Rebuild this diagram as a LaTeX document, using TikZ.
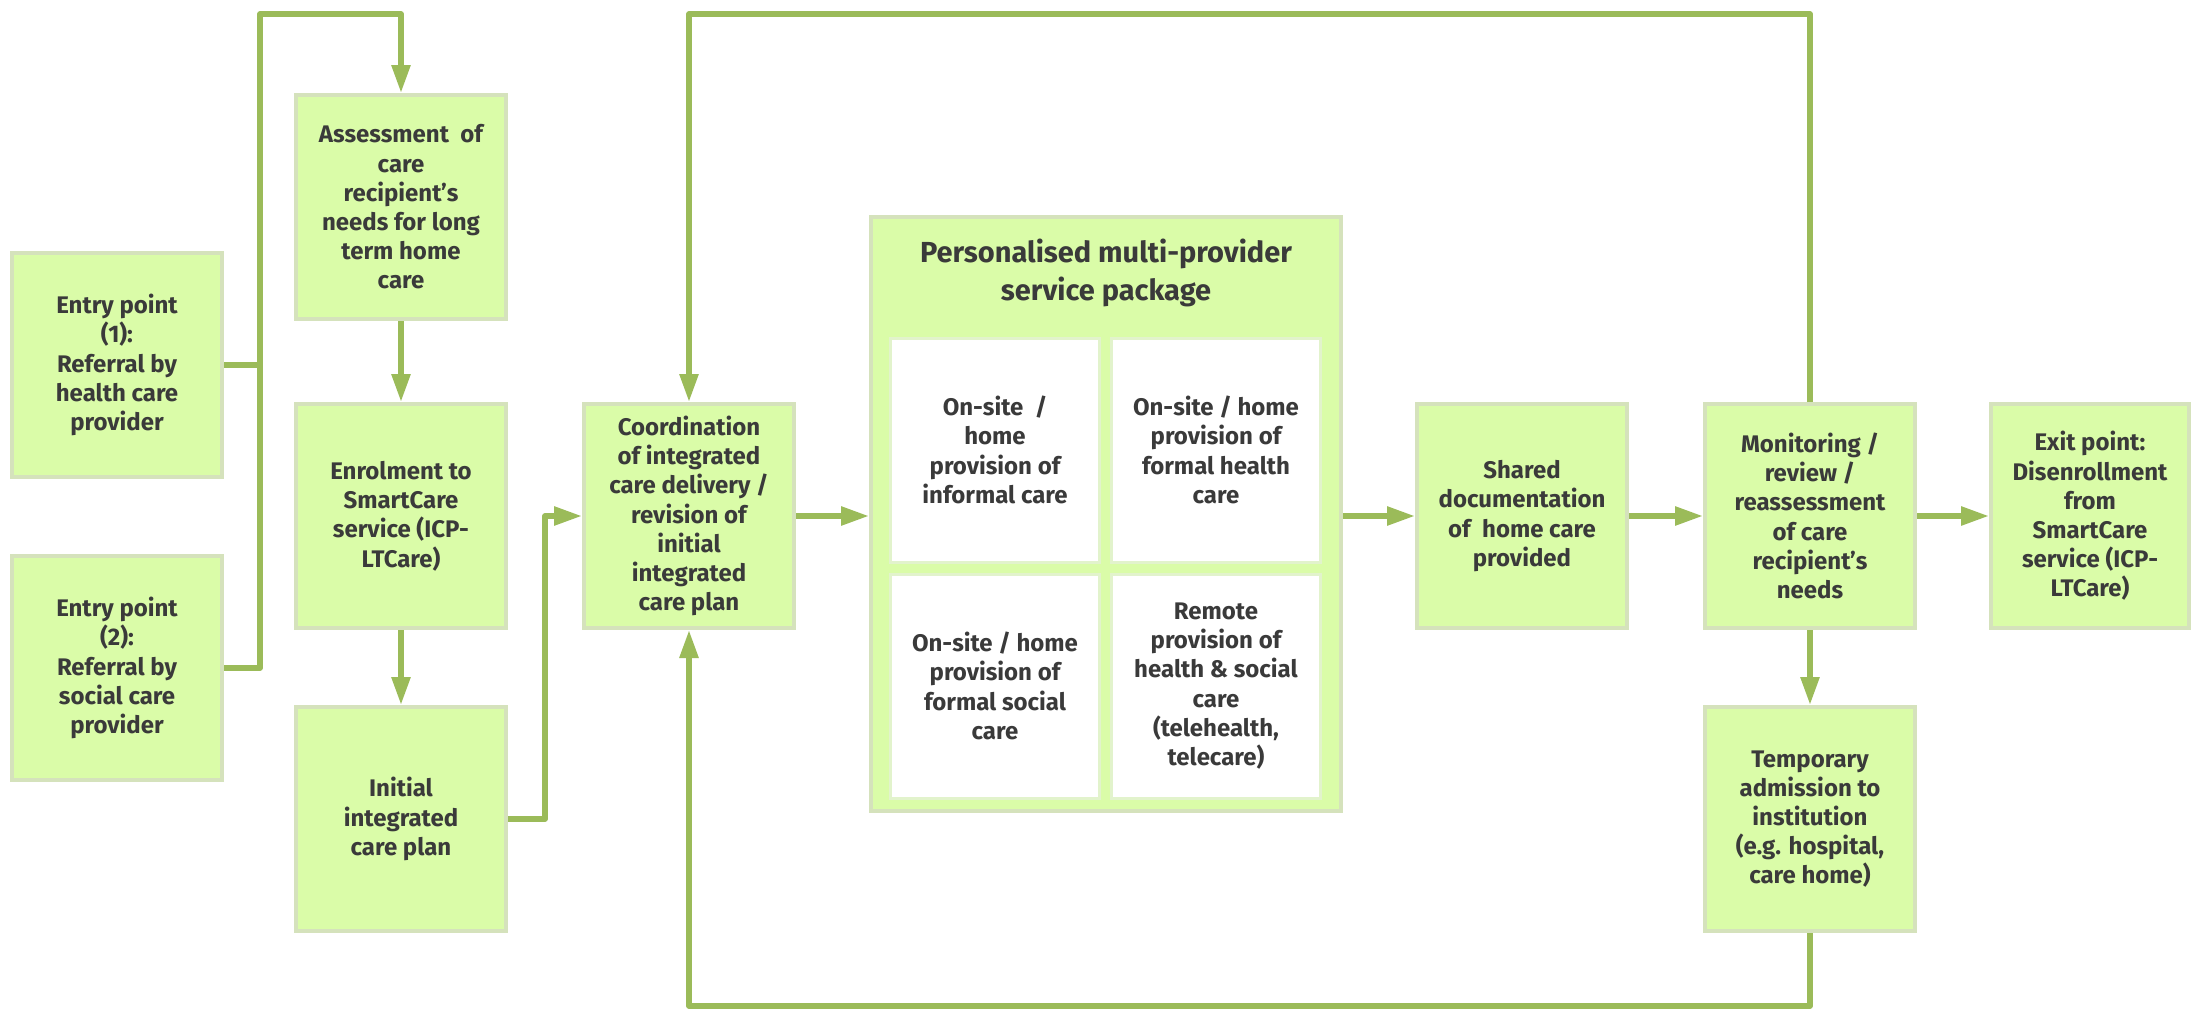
\documentclass[tikz,border=0pt]{standalone}
\usepackage{fontspec}
\setmainfont{Fira Sans}
\usetikzlibrary{arrows.meta}
\definecolor{boxfill}{HTML}{DAFCA8}
\definecolor{boxline}{HTML}{D5E2BC}
\definecolor{arrowc}{HTML}{9BBB59}
\definecolor{txt}{HTML}{3A3A3A}
\definecolor{innerline}{HTML}{E2F3CC}
\begin{document}
\begin{tikzpicture}[x=0.5pt,y=-0.5pt,
 box/.style={draw=boxline, line width=2pt, fill=boxfill, minimum width=105pt, minimum height=112pt, inner sep=0pt, align=center, text=txt, font=\bfseries\fontsize{12}{14.6}\selectfont},
 innerbox/.style={box, fill=white, draw=innerline, line width=1.5pt, minimum width=104.5pt, minimum height=112pt},
 pkgbox/.style={draw=boxline, line width=2pt, fill=boxfill, minimum width=235pt, minimum height=297pt, inner sep=0pt},
 conn/.style={draw=arrowc, line width=2.8pt, line join=round},
 arr/.style={conn, -{Triangle[length=14pt,width=9pt]}}]
\fill[white] (0,0) rectangle (2192,1012);
\useasboundingbox (0,0) rectangle (2192,1012);

\node[box] (e1) at (117,365) {Entry point\\(1):\\Referral by\\health care\\provider};
\node[box] (e2) at (117,668) {Entry point\\(2):\\Referral by\\social care\\provider};
\node[box] (asmt) at (401,207) {Assessment~ of\\care\\recipient’s\\needs for long\\term home\\care};
\node[box] (enrol) at (401,516) {Enrolment to\\SmartCare\\service (ICP-\\LTCare)};
\node[box] (init) at (401,819) {Initial\\integrated\\care plan};
\node[box] (coord) at (689,516) {Coordination\\of integrated\\care delivery /\\revision of\\initial\\integrated\\care plan};

\node[pkgbox] (pkg) at (1106,514) {};
\node[text=txt, align=center, font=\bfseries\fontsize{14.5}{19}\selectfont] (title) at (1106,273) {Personalised multi-provider\\service package};
\node[innerbox] (tl) at (995,450) {On-site~ /\\home\\provision of\\informal care};
\node[innerbox] (tr) at (1216,450) {On-site / home\\provision of\\formal health\\care};
\node[innerbox] (bl) at (995,686) {On-site / home\\provision of\\formal social\\care};
\node[innerbox] (br) at (1216,686) {Remote\\provision of\\health \& social\\care\\(telehealth,\\telecare)};

\node[box] (shared) at (1522,516) {Shared\\documentation\\of~ home care\\provided};
\node[box] (mon) at (1810,516) {Monitoring /\\review /\\reassessment\\of care\\recipient’s\\needs};
\node[box, minimum width=99pt] (exit) at (2090,516) {Exit point:\\Disenrollment\\from\\SmartCare\\service (ICP-\\LTCare)};
\node[box] (temp) at (1810,819) {Temporary\\admission to\\institution\\(e.g. hospital,\\care home)};

\coordinate (top1) at (260,14);
\coordinate (j1) at (260,365);
\coordinate (k1) at (545,516);
\coordinate (top2) at (1200,14);
\coordinate (bot2) at (1200,1006);

\draw[arr] (e1.east) -| (top1) -| (asmt.north);
\draw[conn] (e2.east) -| (j1);
\draw[arr] (asmt.south) -- (enrol.north);
\draw[arr] (enrol.south) -- (init.north);
\draw[arr] (init.east) -| (k1) -- (coord.west);
\draw[arr] (coord.east) -- (pkg.west |- coord.east);
\draw[arr] (pkg.east |- shared.west) -- (shared.west);
\draw[arr] (shared.east) -- (mon.west);
\draw[arr] (mon.east) -- (exit.west);
\draw[arr] (mon.south) -- (temp.north);
\draw[arr] (mon.north) -- (mon.north |- top2) -| (coord.north);
\draw[arr] (temp.south) -- (temp.south |- bot2) -| (coord.south);
\end{tikzpicture}
\end{document}
